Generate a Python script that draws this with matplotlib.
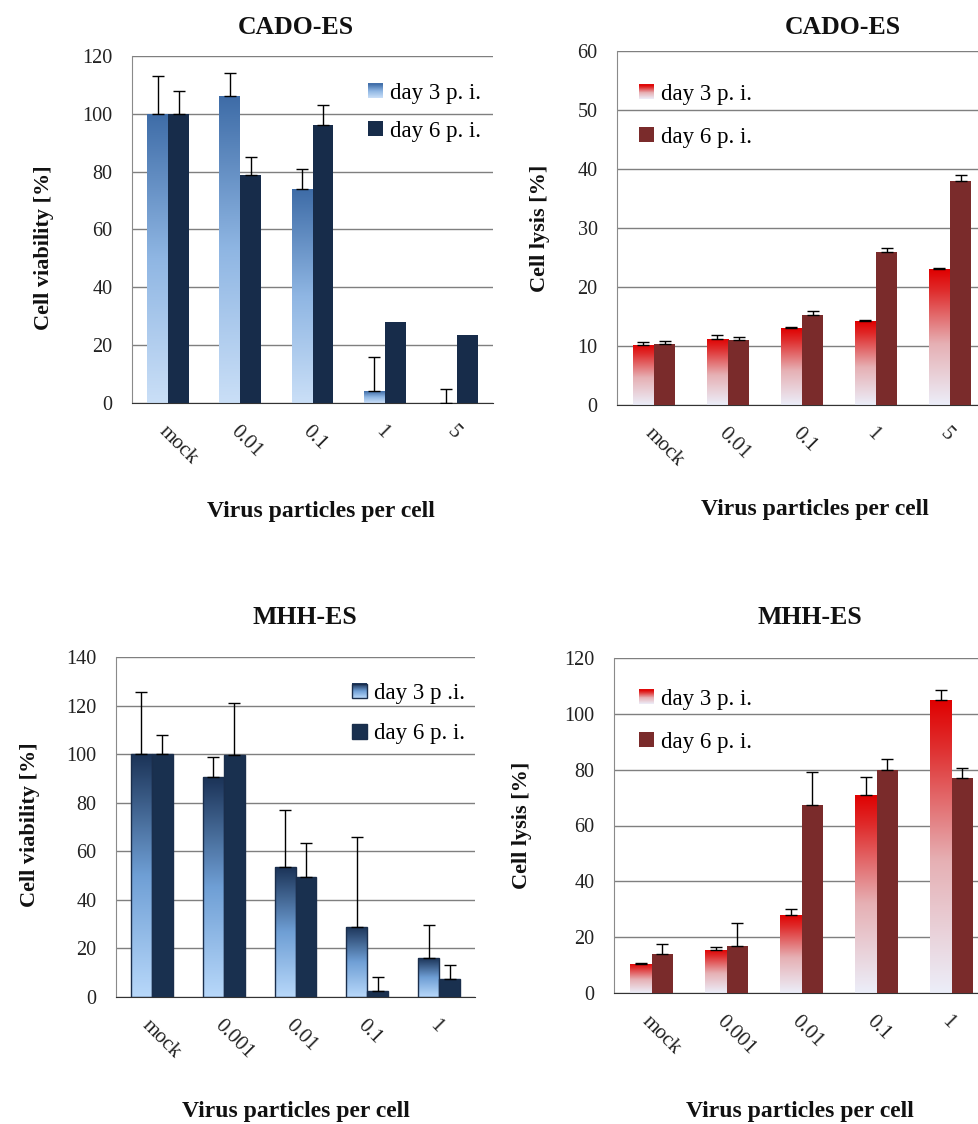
import matplotlib
matplotlib.use('Agg')
import matplotlib.pyplot as plt
import numpy as np
from matplotlib.colors import LinearSegmentedColormap
from matplotlib.patches import Rectangle, Patch
from matplotlib.legend_handler import HandlerBase

plt.rcParams['font.family'] = ['Liberation Serif', 'DejaVu Serif']

# ---- data ----
cado_doses = ['mock', '0.01', '0.1', '1', '5']
mhh_doses = ['mock', '0.001', '0.01', '0.1', '1']

cado_via_d3 = [100, 106, 74, 4, 0]
cado_via_d3_err = [13, 8, 7, 12, 5]
cado_via_d6 = [100, 79, 96, 28, 23.5]
cado_via_d6_err = [8, 6, 7, 0, 0]

cado_lys_d3 = [10.2, 11.2, 13.0, 14.2, 23.0]
cado_lys_d3_err = [0.5, 0.6, 0.2, 0.2, 0.3]
cado_lys_d6 = [10.3, 11.0, 15.3, 26.0, 38.0]
cado_lys_d6_err = [0.6, 0.5, 0.7, 0.6, 1.0]

mhh_via_d3 = [100, 90.5, 53.5, 29, 16]
mhh_via_d3_err = [25.5, 8.5, 23.5, 37, 13.5]
mhh_via_d6 = [100, 99.5, 49.5, 2.3, 7.6]
mhh_via_d6_err = [8, 21.5, 14, 6, 5.5]

mhh_lys_d3 = [10.5, 15.5, 28, 71, 105]
mhh_lys_d3_err = [0.4, 0.8, 2, 6.5, 3.5]
mhh_lys_d6 = [14, 17, 67.5, 80, 77]
mhh_lys_d6_err = [3.5, 8, 11.5, 4, 3.5]

W, H = 979, 1124
fig = plt.figure(figsize=(W / 100, H / 100), dpi=100)


def px_rect(l, t, r, b):
    return [l / W, 1 - b / H, (r - l) / W, (b - t) / H]


blue_a = LinearSegmentedColormap.from_list('blue_a', ['#cadff7', '#8fb6e3', '#3e6ca7'])
blue_b = LinearSegmentedColormap.from_list('blue_b', ['#b8d8fa', '#6f9fd5', '#1b3357'])
red_a = LinearSegmentedColormap.from_list(
    'red_a', [(0, '#eceef9'), (0.45, '#e6b0b4'), (0.85, '#df2a2a'), (1, '#e00000')])


class GradHandler(HandlerBase):
    def __init__(self, cmap, edge=None):
        super().__init__()
        self.cmap = cmap
        self.edge = edge

    def create_artists(self, legend, orig_handle, xdescent, ydescent,
                       width, height, fontsize, trans):
        arts = []
        n = 14
        for i in range(n):
            arts.append(Rectangle((-xdescent, -ydescent + height * i / n), width,
                                  height / n * 1.05, facecolor=self.cmap((i + 0.5) / n),
                                  edgecolor='none', transform=trans))
        if self.edge:
            arts.append(Rectangle((-xdescent, -ydescent), width, height, facecolor='none',
                                  edgecolor=self.edge, lw=1, transform=trans))
        return arts


grad = np.linspace(0, 1, 256).reshape(-1, 1)


def panel(rect, doses, d3, d3e, d6, d6e, ymax, step, cmap3, col6, edge,
          labels, leg_xy, leg_sp):
    ax = fig.add_axes(px_rect(*rect))
    x = np.arange(len(doses))
    w = 0.29
    ec = edge if edge else 'none'
    b3 = ax.bar(x - 0.145, d3, w, facecolor='none', edgecolor=ec, lw=1, zorder=3)
    for p in b3:
        h = p.get_height()
        if h <= 0:
            continue
        x0 = p.get_x()
        im = ax.imshow(grad, extent=[x0, x0 + w, 0, h], origin='lower', aspect='auto',
                       cmap=cmap3, zorder=2.5, interpolation='bicubic')
        im.set_clip_path(p)
    ax.bar(x + 0.145, d6, w, facecolor=col6, edgecolor=ec, lw=1, zorder=3)

    for xs, v, e in ((x - 0.145, d3, d3e), (x + 0.145, d6, d6e)):
        idx = [i for i in range(len(e)) if e[i] > 0]
        ax.errorbar(xs[idx], np.array(v)[idx], yerr=[np.zeros(len(idx)), np.array(e)[idx]],
                    fmt='none', ecolor='black', elinewidth=1, capsize=4, capthick=1, zorder=4)

    ax.set_xlim(-0.5, len(doses) - 0.5)
    ax.set_ylim(0, ymax)
    ax.set_yticks(range(0, ymax + 1, step))
    ax.yaxis.grid(True, color='#7f7f7f', linewidth=1)
    ax.set_axisbelow(True)
    for s in ('top', 'right'):
        ax.spines[s].set_visible(False)
    ax.spines['left'].set_color('#8a8a8a')
    ax.spines['bottom'].set_color('#333333')
    ax.tick_params(axis='y', length=0, pad=14, labelsize=14.5, labelcolor='#222222')
    ax.tick_params(axis='x', length=0, pad=14)
    ax.set_xticks(x)
    ax.set_xticklabels(doses, rotation=-45, ha='left', va='top', rotation_mode='anchor',
                       fontsize=15, color='#222222')

    h3 = Patch()
    h6 = Patch(facecolor=col6, edgecolor=ec)
    ax.legend([h3, h6], labels, handler_map={h3: GradHandler(cmap3, edge)},
              loc='upper left', bbox_to_anchor=(leg_xy[0] / W, 1 - leg_xy[1] / H),
              bbox_transform=fig.transFigure, frameon=False, fontsize=16.5,
              handlelength=0.65, handleheight=0.62, handletextpad=0.3,
              labelspacing=leg_sp, borderpad=0, borderaxespad=0)
    return ax


panel((132, 56, 493, 403), cado_doses, cado_via_d3, cado_via_d3_err, cado_via_d6,
      cado_via_d6_err, 120, 20, blue_a, '#172c4a', None,
      ['day 3 p. i.', 'day 6 p. i.'], (368, 83), 0.72)
panel((617, 51, 987, 405), cado_doses, cado_lys_d3, cado_lys_d3_err, cado_lys_d6,
      cado_lys_d6_err, 60, 10, red_a, '#7a2b2b', None,
      ['day 3 p. i.', 'day 6 p. i.'], (639, 84), 0.95)
panel((116, 657, 475, 997), mhh_doses, mhh_via_d3, mhh_via_d3_err, mhh_via_d6,
      mhh_via_d6_err, 140, 20, blue_b, '#19304f', '#1a2e4c',
      ['day 3 p .i.', 'day 6 p. i.'], (352, 683), 0.85)
panel((614, 658, 989, 993), mhh_doses, mhh_lys_d3, mhh_lys_d3_err, mhh_lys_d6,
      mhh_lys_d6_err, 120, 20, red_a, '#7a2b2b', None,
      ['day 3 p. i.', 'day 6 p. i.'], (639, 689), 0.95)

# titles and axis labels
for txt, xp, yp in (('CADO-ES', 296, 27), ('CADO-ES', 843, 27),
                    ('MHH-ES', 305, 617), ('MHH-ES', 810, 617)):
    fig.text(xp / W, 1 - yp / H, txt, ha='center', va='center', fontsize=18.5,
             fontweight='bold', color='#111111')
for xp, yp in ((321, 512), (815, 509), (296, 1111), (800, 1111)):
    fig.text(xp / W, 1 - yp / H, 'Virus particles per cell', ha='center', va='center',
             fontsize=17, fontweight='bold', color='#111111')
for txt, xp, yp in (('Cell viability [%]', 44, 248), ('Cell lysis [%]', 540, 228),
                    ('Cell viability [%]', 30, 825), ('Cell lysis [%]', 522, 825)):
    fig.text(xp / W, 1 - yp / H, txt, ha='center', va='center', rotation=90,
             fontsize=16, fontweight='bold', color='#111111')

fig.savefig('out.png', dpi=100, facecolor='white')
